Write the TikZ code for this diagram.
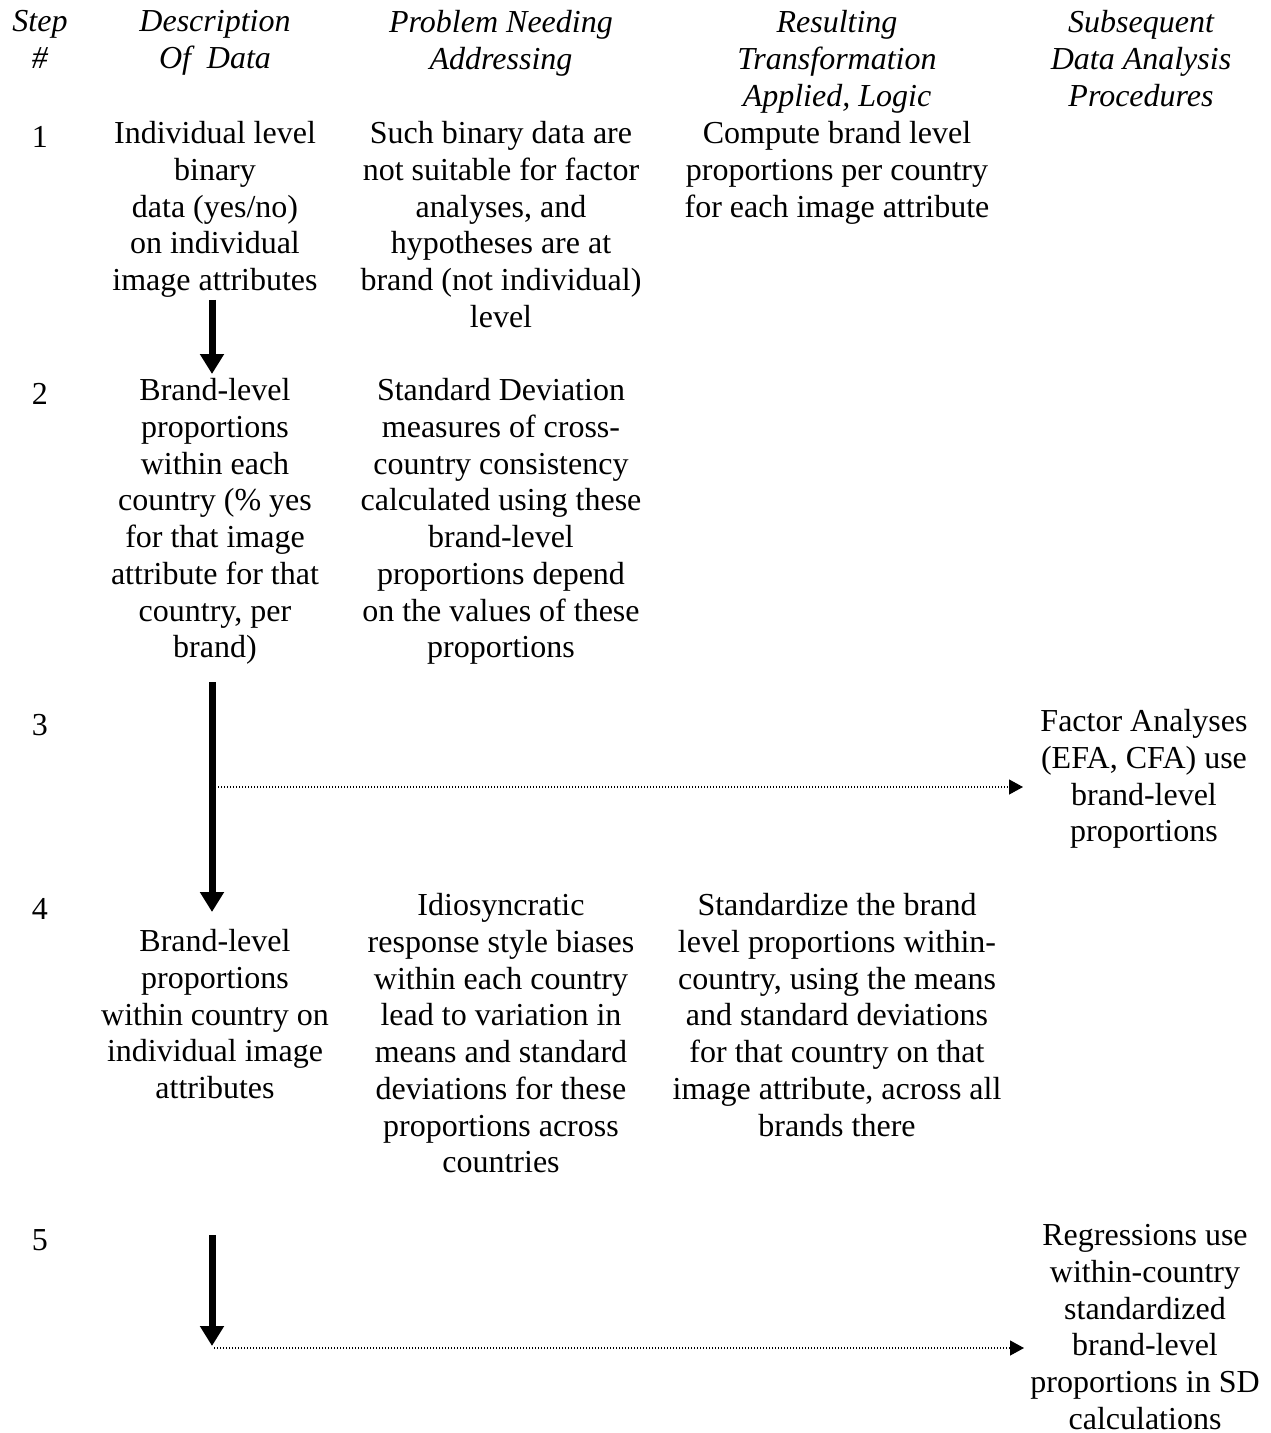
\documentclass[tikz,border=0pt]{standalone}
\usepackage{fontspec}
\setmainfont{Liberation Serif}
\usetikzlibrary{arrows.meta}
\newcommand\fstrut{\rule{0pt}{13pt}}
\tikzset{
  txt/.style={anchor=north, inner sep=0pt, align=center,
    font=\fontsize{16}{18.375}\selectfont, execute at begin node=\fstrut},
  hdr/.style={txt, font=\fontsize{16}{18.375}\selectfont\itshape},
  bigarrow/.style={line width=3.5pt, -{Triangle[width=11.5pt,length=10pt]}},
  dotarrow/.style={line width=0.6pt, dash pattern=on 0.55pt off 0.95pt,
    -{Triangle[width=7.5pt,length=7pt]}}
}
\begin{document}
\begin{tikzpicture}[x=0.5pt,y=-0.5pt]
\useasboundingbox (0,0) rectangle (1270,1433);
% headers
\node[hdr] (h1) at (40,10) {Step\\\#};
\node[hdr] (h2) at (215,10) {Description\\Of\ \ Data};
\node[hdr] (h3) at (501,10) {Problem Needing\\Addressing};
\node[hdr] (h4) at (837,10) {Resulting\\Transformation\\Applied, Logic};
\node[hdr] (h5) at (1141,10) {Subsequent\\Data Analysis\\Procedures};
% step numbers
\node[txt] (s1) at (40,121) {1};
\node[txt] (s2) at (40,378) {2};
\node[txt] (s3) at (40,709) {3};
\node[txt] (s4) at (40,893) {4};
\node[txt] (s5) at (40,1224) {5};
% row 1
\node[txt] (d1) at (215,121) {Individual level\\binary\\data (yes/no)\\on individual\\image attributes};
\node[txt] (p1) at (501,121) {Such binary data are\\not suitable for factor\\analyses, and\\hypotheses are at\\brand (not individual)\\level};
\node[txt] (r1) at (837,121) {Compute brand level\\proportions per country\\for each image attribute};
% row 2
\node[txt] (d2) at (215,378) {Brand-level\\proportions\\within each\\country (\%\ yes\\for that image\\attribute for that\\country, per\\brand)};
\node[txt] (p2) at (501,378) {Standard Deviation\\measures of cross-\\country consistency\\calculated using these\\brand-level\\proportions depend\\on the values of these\\proportions};
% row 3
\node[txt] (f3) at (1144,709) {Factor Analyses\\(EFA, CFA) use\\brand-level\\proportions};
% row 4
\node[txt] (d4) at (215,929) {Brand-level\\proportions\\within country on\\individual image\\attributes};
\node[txt] (p4) at (501,893) {Idiosyncratic\\response style biases\\within each country\\lead to variation in\\means and standard\\deviations for these\\proportions across\\countries};
\node[txt] (r4) at (837,893) {Standardize the brand\\level proportions within-\\country, using the means\\and standard deviations\\for that country on that\\image attribute, across all\\brands there};
% row 5
\node[txt] (g5) at (1145,1224) {Regressions use\\within-country\\standardized\\brand-level\\proportions in SD\\calculations};
% arrow coordinates
\coordinate (a1s) at (212,300);
\coordinate (a1e) at (212,374);
\coordinate (a2s) at (212,682);
\coordinate (a2e) at (212,912);
\coordinate (a2m) at (215,787);
\coordinate (f3in) at (1023,787);
\coordinate (a3s) at (212,1235);
\coordinate (a3e) at (212,1346);
\coordinate (a3m) at (214,1348);
\coordinate (g5in) at (1024,1348);
\draw[bigarrow] (a1s) -- (a1e);
\draw[bigarrow] (a2s) -- (a2e);
\draw[bigarrow] (a3s) -- (a3e);
\draw[dotarrow] (a2m) -- (f3in);
\draw[dotarrow] (a3m) -- (g5in);
\end{tikzpicture}
\end{document}
